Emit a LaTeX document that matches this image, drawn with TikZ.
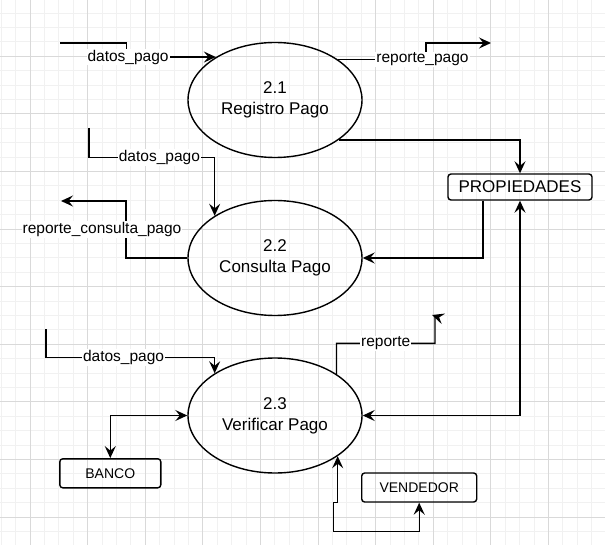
\documentclass[tikz,border=0pt]{standalone}
\usepackage{fontspec}
\setmainfont{Liberation Sans}
\usetikzlibrary{shapes.geometric,arrows.meta}

\begin{document}
\begin{tikzpicture} [x=1pt,y=-1pt,line width=1.4pt,
			>={Stealth[length=12pt,width=11pt,inset=4.5pt]},
			minor line/.style={gray!11,line width=0.7pt},
			major line/.style={gray!30,line width=0.7pt},
			process/.style={ellipse,draw,minimum width=174pt,minimum height=115pt,inner sep=0pt,
				align=center,font=\fontsize{17}{21}\selectfont},
			store/.style={draw,rounded corners=3pt,inner sep=0pt,minimum height=29pt,
				font=\fontsize{14}{17}\selectfont},
			flow/.style={->},
			both flow/.style={<->},
			flow label/.style={fill=white,inner sep=1pt,font=\fontsize{15.5}{18}\selectfont}]

		\useasboundingbox (0,0) rectangle (605,545);
		\foreach \i in {0,...,41}
			\draw [minor line] (1.2+14.4*\i,0) -- (1.2+14.4*\i,545);
		\foreach \j in {1,...,37}
			\draw [minor line] (0,-1.5+14.4*\j) -- (605,-1.5+14.4*\j);
		\foreach \i in {0,...,9}
			\draw [major line] (30+57.6*\i,0) -- (30+57.6*\i,545);
		\foreach \j in {0,...,8}
			\draw [major line] (0,56.1+57.6*\j) -- (605,56.1+57.6*\j);

		\node [process] (e1) at (275,100) {2.1\\Registro Pago};
		\node [process] (e2) at (275,258) {2.2\\Consulta Pago};
		\node [process] (e3) at (275,415.5) {2.3\\Verificar Pago};
		\node [store, minimum width=144pt, minimum height=26pt, font=\fontsize{17}{20}\selectfont] (prop) at (520,187) {PROPIEDADES};
		\node [store, minimum width=101pt] (banco) at (110.3,473.3) {BANCO};
		\node [store, minimum width=115pt] (vend) at (419.2,487.5) {VENDEDOR};

		\coordinate (dp1) at (60,43);
		\coordinate (dp2) at (89,128);
		\coordinate (dp3) at (46,329);
		\coordinate (rp1) at (491,43);
		\coordinate (rc1) at (61,201);
		\coordinate (rp3) at (432,315);

		\draw [flow] (dp1) -| ([xshift=-89.6pt]e1.144.7) -- node [flow label, pos=0.02] {datos\_pago} (e1.144.7);
		\draw [flow] (e1.33.9) -| node [flow label, pos=0.48] {reporte\_pago} ([xshift=-65pt]rp1) -- (rp1);
		\draw [flow] (e1.-32.6) -| (prop.north);

		\draw [flow] (dp2) |- node [flow label, pos=0.78] {datos\_pago} ([yshift=58.4pt]e2.145.3) -- (e2.145.3);
		\draw [flow] (e2.west) -| node [flow label, pos=0.75, xshift=-24pt] {reporte\_consulta\_pago} ([xshift=65pt]rc1) -- (rc1);
		\draw [flow] ([xshift=-37pt]prop.south) |- (e2.east);

		\draw [both flow] (prop.south) |- (e3.east);
		\draw [flow] (dp3) |- node [flow label, pos=0.73] {datos\_pago} ([yshift=15.9pt]e3.145.3) -- (e3.145.3);
		\draw [both flow] (e3.west) -| (banco.north);
		\draw [flow] (e3.34.7) -- ([yshift=30.6pt]e3.34.7) -| node [flow label, pos=0.25] {reporte} ([xshift=3pt,yshift=-1pt]rp3) -- (rp3);
		\draw [both flow] (e3.-33.3) |- ([xshift=-86pt]vend.south) -- ++(0,29) -| (vend.south);

		\end{tikzpicture}
\end{document}
